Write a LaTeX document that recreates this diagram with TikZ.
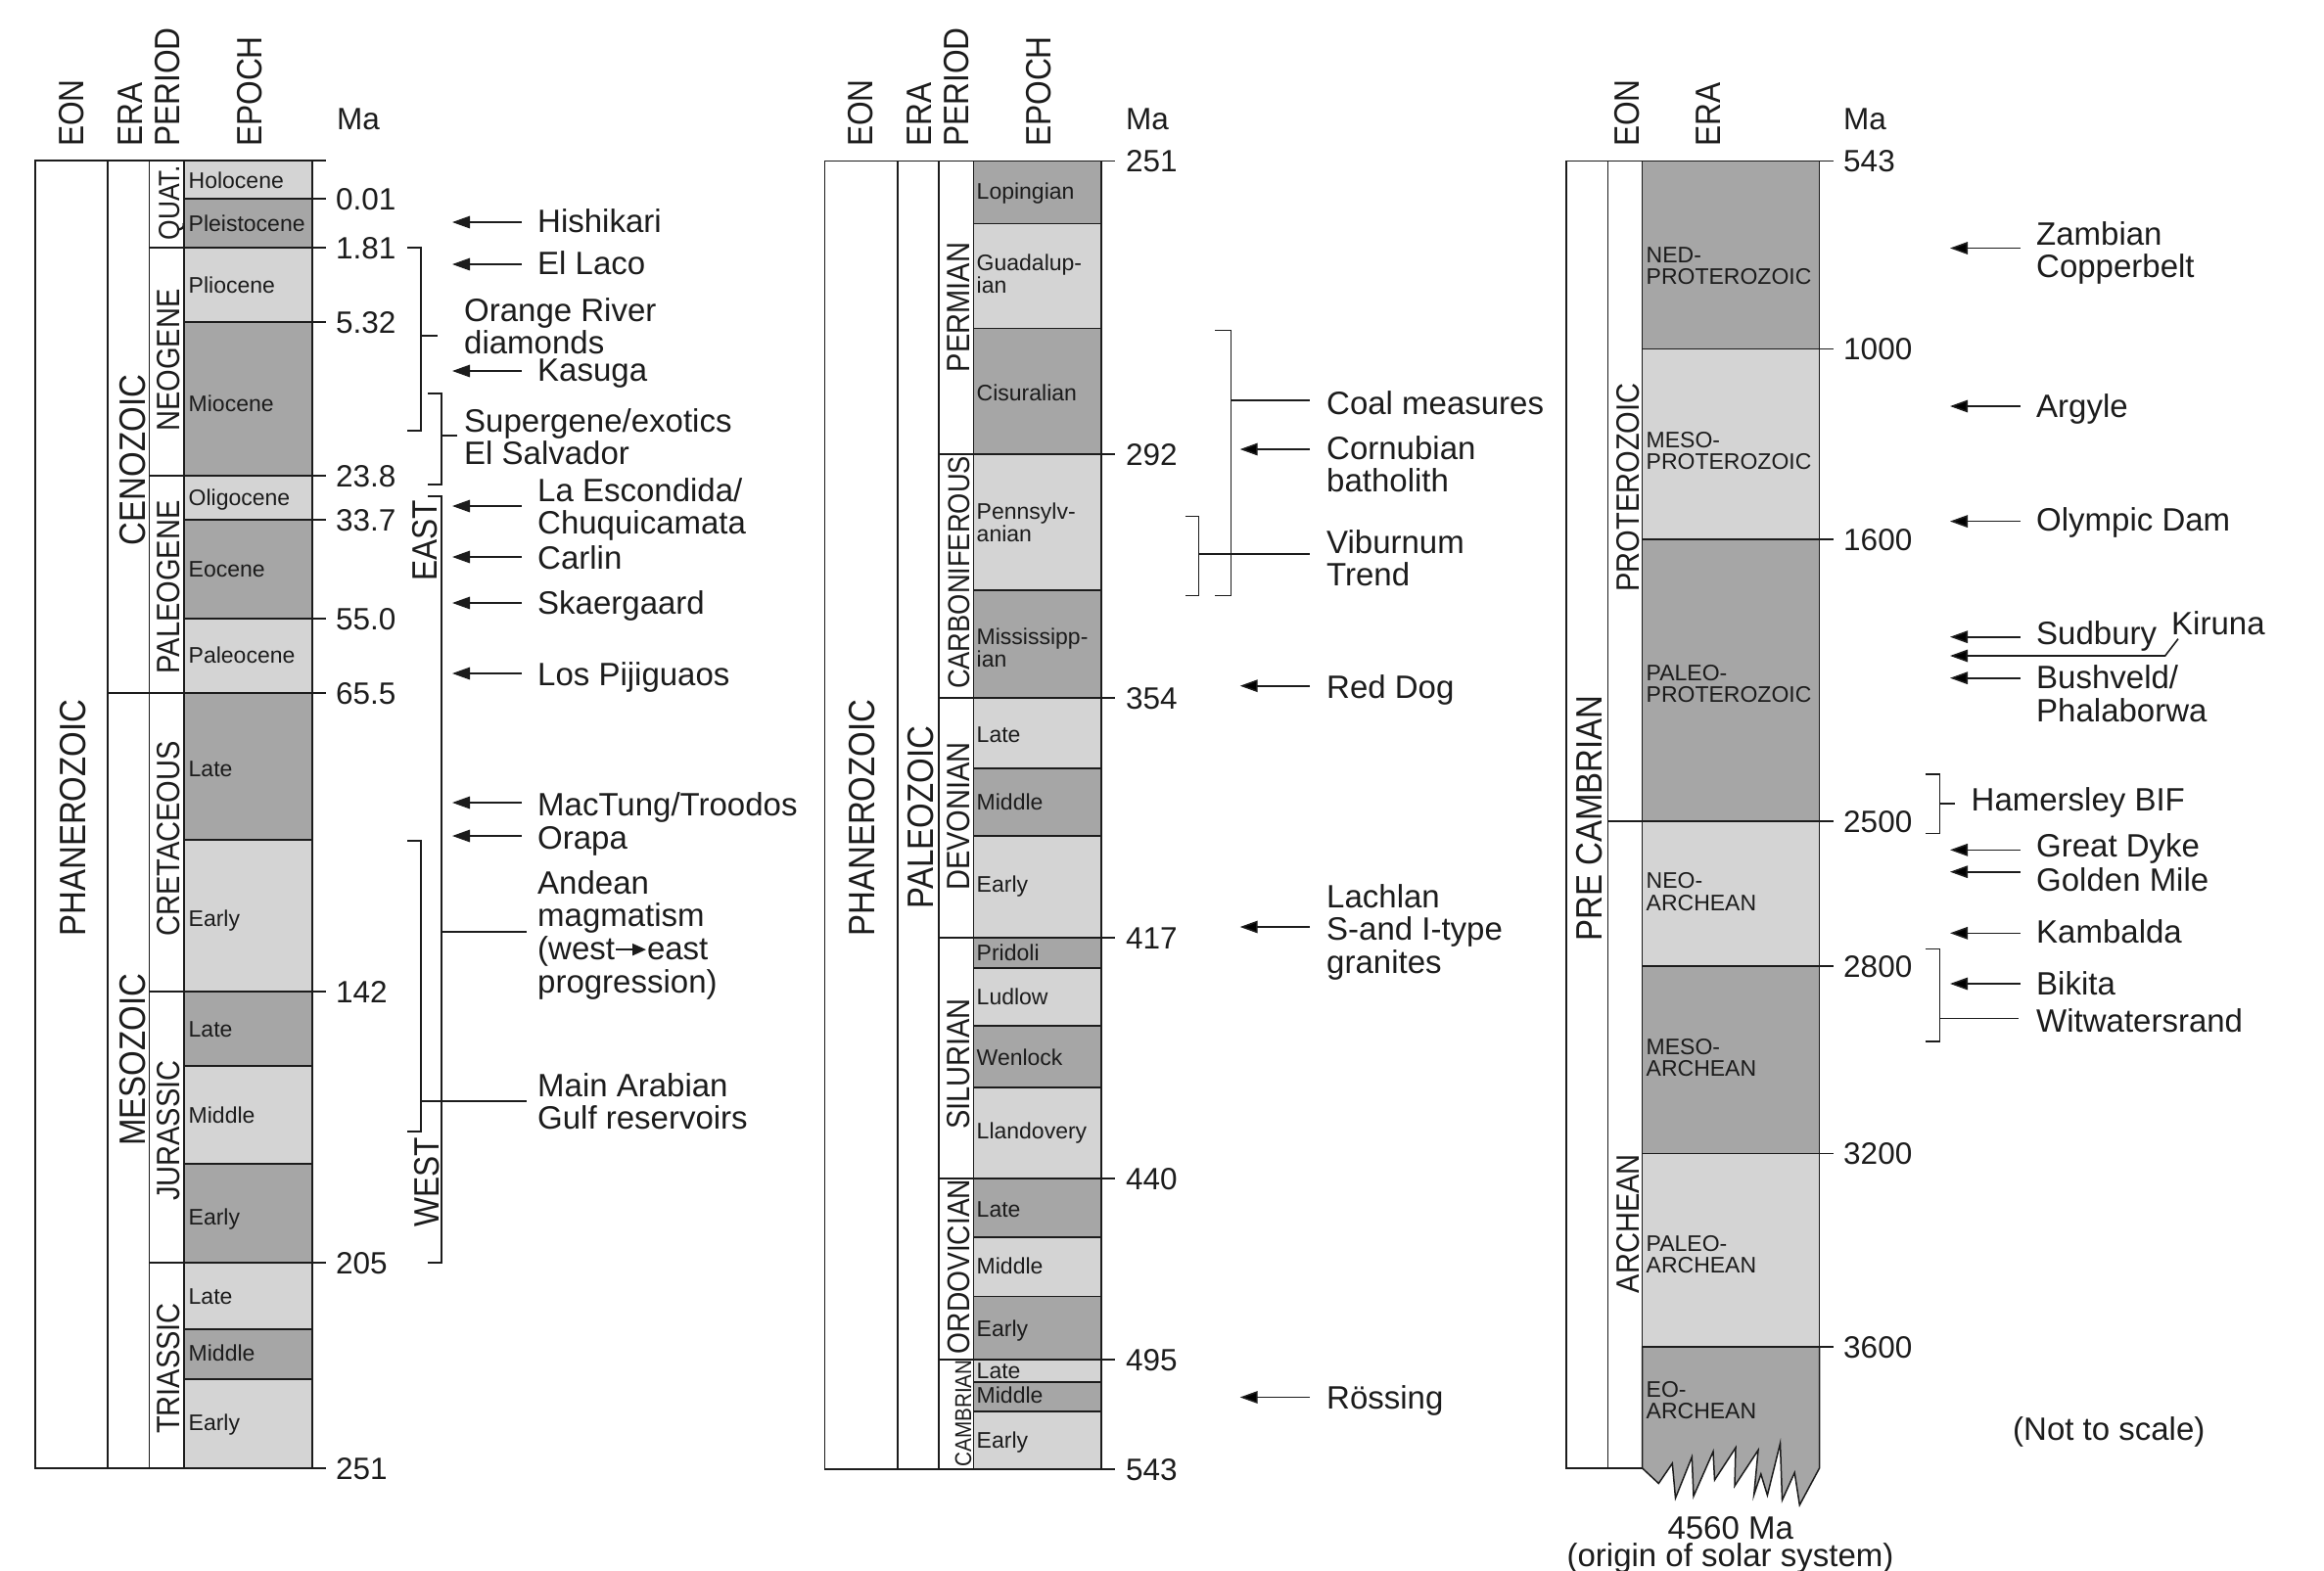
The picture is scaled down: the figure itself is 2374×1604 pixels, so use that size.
\documentclass[tikz,border=0pt]{standalone}
\usepackage{fontspec}
\setmainfont{Liberation Sans}
\newfontfamily\hdrfont{Liberation Sans}[FakeStretch=0.88]
\usetikzlibrary{arrows.meta}
\definecolor{lt}{RGB}{212,212,212}
\definecolor{dk}{RGB}{166,166,166}
\definecolor{ink}{RGB}{28,28,28}
\newcommand\mlines[1]{\begin{tabular}[t]{@{}l@{}}#1\end{tabular}}
\newcommand\wearrow{\tikz[baseline=-10.5pt]\draw[draw=ink,line width=2pt,-{Triangle[length=14pt,width=12pt]}] (0pt,0pt) -- (31pt,0pt);}
\tikzset{
  ln/.style={draw=ink, line width=1.5pt},
  lbl/.style={inner sep=0pt, anchor=base west, text=ink, font=\fontsize{33}{33}\selectfont},
  num/.style={inner sep=0pt, anchor=base west, text=ink, font=\fontsize{31.5}{33}\selectfont},
  eplbl/.style={inner sep=0pt, anchor=base west, text=ink, font=\fontsize{23}{22.5}\selectfont},
  hdr/.style={inner sep=0pt, anchor=base west, rotate=90, text=ink, font=\hdrfont\fontsize{36}{36}\selectfont},
  vlab/.style={inner sep=0pt, anchor=base, rotate=90, text=ink, font=\hdrfont\fontsize{#1}{#1}\selectfont},
  arr/.style={draw=ink, line width=1.6pt, -{Triangle[length=18pt,width=12.5pt]}},
}
\begin{document}
\begin{tikzpicture}[x=1pt,y=-1pt]
\useasboundingbox (0,0) rectangle (2374,1604);

% ================= COLUMN 1 =================
\foreach \a/\b/\c in {164/203/lt,203/253/dk,253/329/lt,329/486/dk,486/531/lt,531/632/dk,632/708/lt,708/858/dk,858/1013/lt,1013/1089/dk,1089/1189/lt,1189/1290/dk,1290/1358/lt,1358/1409/dk,1409/1500/lt}
  \filldraw[ln,fill=\c] (188,\a) rectangle (319,\b);
\foreach \a/\b in {164/253,253/486,486/708,708/1013,1013/1290,1290/1500}
  \draw[ln] (152.7,\a) rectangle (188,\b);
\foreach \a/\b in {164/708,708/1500}
  \draw[ln] (110,\a) rectangle (152.7,\b);
\draw[ln] (36,164) rectangle (110,1500);
\foreach \y in {164,203,253,329,486,531,632,708,1013,1290,1500}
  \draw[ln] (319,\y) -- (333,\y);
\foreach \lab/\y [count=\i] in {0.01/203,1.81/253,5.32/329,23.8/486,33.7/531,55.0/632,65.5/708,142/1013,205/1290,251/1500}
  \node[num] (n1-\i) at (343,\y+11) {\lab};
\node[num] (ma1) at (344,132) {Ma};

\node[hdr] (h1eon) at (85,150) {EON};
\node[hdr] (h1era) at (145,150) {ERA};
\node[hdr] (h1per) at (183,150) {PERIOD};
\node[hdr] (h1epo) at (267,150) {EPOCH};

\node[vlab=37.5] (c1phan) at (87,835.5) {PHANEROZOIC};
\node[vlab=37.5] (c1ceno) at (148,470) {CENOZOIC};
\node[vlab=37.5] (c1meso) at (148,1082.5) {MESOZOIC};
\node[vlab=30] (c1quat) at (183,207.5) {QUAT.};
\node[vlab=33] (c1neog) at (183,368) {NEOGENE};
\node[vlab=33] (c1paleog) at (183,600) {PALEOGENE};
\node[vlab=33] (c1cret) at (183,857) {CRETACEOUS};
\node[vlab=33] (c1jur) at (183,1155) {JURASSIC};
\node[vlab=33] (c1tri) at (183,1398) {TRIASSIC};

\node[eplbl] (e1-1) at (192.5,192) {Holocene};
\node[eplbl] (e1-2) at (192.5,236.5) {Pleistocene};
\node[eplbl] (e1-3) at (192.5,299.5) {Pliocene};
\node[eplbl] (e1-4) at (192.5,420) {Miocene};
\node[eplbl] (e1-5) at (192.5,516) {Oligocene};
\node[eplbl] (e1-6) at (192.5,589) {Eocene};
\node[eplbl] (e1-7) at (192.5,677) {Paleocene};
\node[eplbl] (e1-8) at (192.5,793) {Late};
\node[eplbl] (e1-9) at (192.5,946) {Early};
\node[eplbl] (e1-10) at (192.5,1059.5) {Late};
\node[eplbl] (e1-11) at (192.5,1147) {Middle};
\node[eplbl] (e1-12) at (192.5,1251) {Early};
\node[eplbl] (e1-13) at (192.5,1332) {Late};
\node[eplbl] (e1-14) at (192.5,1390) {Middle};
\node[eplbl] (e1-15) at (192.5,1461) {Early};

% brackets column 1
\draw[ln] (416,253) -- (430,253) -- (430,440) -- (416,440);
\coordinate (orA) at (430,343); \coordinate (orB) at (447,343);
\draw[ln] (orA) -- (orB);
\draw[ln] (437,402) -- (451,402) -- (451,495) -- (437,495);
\coordinate (spA) at (451,445); \coordinate (spB) at (467,445);
\draw[ln] (spA) -- (spB);
\draw[ln] (437,507) -- (451,507) -- (451,1290) -- (437,1290);
\coordinate (anA) at (451,952); \coordinate (anB) at (538,952);
\draw[ln] (anA) -- (anB);
\draw[ln] (416,859) -- (430,859) -- (430,1156) -- (416,1156);
\coordinate (maA) at (430,1125); \coordinate (maB) at (538,1125);
\draw[ln] (maA) -- (maB);
\node[vlab=36] (east) at (446,552.5) {EAST};
\node[vlab=36] (west) at (448,1208) {WEST};

\foreach \y [count=\i] in {227,270,379,517,569,616,688,820,854} {
  \coordinate (a1s\i) at (533,\y); \coordinate (a1t\i) at (462,\y);
  \draw[arr] (a1s\i) -- (a1t\i);
}
\node[lbl] (hishikari) at (549,237) {Hishikari};
\node[lbl] (ellaco) at (549,280) {El Laco};
\node[lbl] (orange) at (474,328) {\mlines{Orange River\\diamonds}};
\node[lbl] (kasuga) at (549,389) {Kasuga};
\node[lbl] (superg) at (474,441) {\mlines{Supergene/exotics\\El Salvador}};
\node[lbl] (escond) at (549,512) {\mlines{La Escondida/\\Chuquicamata}};
\node[lbl] (carlin) at (549,581) {Carlin};
\node[lbl] (skaer) at (549,627) {Skaergaard};
\node[lbl] (pijig) at (549,700) {Los Pijiguaos};
\node[lbl] (mactung) at (549,833) {MacTung/Troodos};
\node[lbl] (orapa) at (549,867) {Orapa};
\node[lbl] (andean) at (549,913) {\mlines{Andean\\magmatism\\(west\wearrow{}east\\progression)}};
\node[lbl] (arabian) at (549,1120) {\mlines{Main Arabian\\Gulf reservoirs}};

% ================= COLUMN 2 =================
\foreach \a/\b/\c in {164.6/228.5/dk,228.5/335.6/lt,335.6/464/dk,464/603/lt,603/713/dk,713/785/lt,785/854/dk,854/958/lt,958/989/dk,989/1048/lt,1048/1111/dk,1111/1204/lt,1204/1264/dk,1264/1324.5/lt,1324.5/1389/dk,1389/1412/lt,1412/1442/dk,1442/1501/lt}
  \filldraw[ln,fill=\c] (994.3,\a) rectangle (1125,\b);
\foreach \a/\b in {164.6/464,464/713,713/958,958/1204,1204/1389,1389/1501}
  \draw[ln] (959,\a) rectangle (994.3,\b);
\draw[ln] (916.8,164.6) rectangle (959,1501);
\draw[ln] (842.3,164.6) rectangle (916.8,1501);
\foreach \y in {164.6,464,713,958,1204,1389,1501}
  \draw[ln] (1125,\y) -- (1139,\y);
\foreach \lab/\y [count=\i] in {251/164.6,292/464,354/713,417/958,440/1204,495/1389,543/1501}
  \node[num] (n2-\i) at (1150,\y+11) {\lab};
\node[num] (ma2) at (1150,132) {Ma};

\node[hdr] (h2eon) at (891,150) {EON};
\node[hdr] (h2era) at (951,150) {ERA};
\node[hdr] (h2per) at (989,150) {PERIOD};
\node[hdr] (h2epo) at (1073,150) {EPOCH};

\node[vlab=37.5] (c2phan) at (893,835.5) {PHANEROZOIC};
\node[vlab=37.5] (c2paleoz) at (953,835) {PALEOZOIC};
\node[vlab=33] (c2perm) at (990,314) {PERMIAN};
\node[vlab=31] (c2carb) at (990,585) {CARBONIFEROUS};
\node[vlab=33] (c2dev) at (990,834) {DEVONIAN};
\node[vlab=33] (c2sil) at (990,1087) {SILURIAN};
\node[vlab=32] (c2ord) at (990,1294) {ORDOVICIAN};
\node[vlab=23.5] (c2camb) at (992,1444) {CAMBRIAN};

\node[eplbl] (e2-1) at (997.5,203.5) {Lopingian};
\node[eplbl] (e2-2) at (997.5,276) {\mlines{Guadalup-\\ian}};
\node[eplbl] (e2-3) at (997.5,409) {Cisuralian};
\node[eplbl] (e2-4) at (997.5,530) {\mlines{Pennsylv-\\anian}};
\node[eplbl] (e2-5) at (997.5,658) {\mlines{Mississipp-\\ian}};
\node[eplbl] (e2-6) at (997.5,758.5) {Late};
\node[eplbl] (e2-7) at (997.5,827) {Middle};
\node[eplbl] (e2-8) at (997.5,911) {Early};
\node[eplbl] (e2-9) at (997.5,981) {Pridoli};
\node[eplbl] (e2-10) at (997.5,1026) {Ludlow};
\node[eplbl] (e2-11) at (997.5,1088) {Wenlock};
\node[eplbl] (e2-12) at (997.5,1163) {Llandovery};
\node[eplbl] (e2-13) at (997.5,1243) {Late};
\node[eplbl] (e2-14) at (997.5,1301) {Middle};
\node[eplbl] (e2-15) at (997.5,1365) {Early};
\node[eplbl] (e2-16) at (997.5,1408) {Late};
\node[eplbl] (e2-17) at (997.5,1433) {Middle};
\node[eplbl] (e2-18) at (997.5,1479) {Early};

% brackets column 2
\draw[ln] (1241,337.5) -- (1257.5,337.5) -- (1257.5,608.6) -- (1241,608.6);
\coordinate (coA) at (1257.5,409); \coordinate (coB) at (1338,409);
\draw[ln] (coA) -- (coB);
\draw[ln] (1210.7,527.6) -- (1224.5,527.6) -- (1224.5,608.6) -- (1210.7,608.6);
\coordinate (viA) at (1224.5,566); \coordinate (viB) at (1338,566);
\draw[ln] (viA) -- (viB);

\foreach \y [count=\i] in {459,700.7,947,1427.5} {
  \coordinate (a2s\i) at (1338,\y); \coordinate (a2t\i) at (1266.7,\y);
  \draw[arr] (a2s\i) -- (a2t\i);
}
\node[lbl] (coal) at (1355,423) {Coal measures};
\node[lbl] (cornub) at (1355,469) {\mlines{Cornubian\\batholith}};
\node[lbl] (vibur) at (1355,565) {\mlines{Viburnum\\Trend}};
\node[lbl] (reddog) at (1355,713) {Red Dog};
\node[lbl] (lachlan) at (1355,927) {\mlines{Lachlan\\S-and I-type\\granites}};
\node[lbl] (rossing) at (1355,1439) {Rössing};

% ================= COLUMN 3 =================
\foreach \a/\b/\c in {164.6/356.3/dk,356.3/551/lt,551/839/dk,839/987/lt,987/1178.6/dk,1178.6/1376/lt}
  \filldraw[ln,fill=\c] (1677.7,\a) rectangle (1858.5,\b);
\filldraw[ln,fill=dk] (1677.7,1376) -- (1677.7,1500) -- (1694.3,1515.5) -- (1708.3,1495) -- (1711.5,1530.5) -- (1728.3,1488.5) -- (1730,1528.5) -- (1750,1483) -- (1751.5,1512) -- (1773,1479) -- (1772,1518) -- (1796,1481.5) -- (1791.7,1527) -- (1798.8,1506) -- (1805.4,1527.6) -- (1818.5,1474.5) -- (1820.5,1532.6) -- (1833.2,1504.5) -- (1838.3,1537.6) -- (1858.5,1500) -- (1858.5,1376) -- cycle;
\foreach \a/\b in {164.6/839,839/1500}
  \draw[ln] (1642.3,\a) rectangle (1677.7,\b);
\draw[ln] (1600,164.6) rectangle (1642.3,1500);
\foreach \y in {164.6,356.3,551,839,987,1178.6,1376}
  \draw[ln] (1858.5,\y) -- (1873,\y);
\foreach \lab/\y [count=\i] in {543/164.6,1000/356.3,1600/551,2500/839,2800/987,3200/1178.6,3600/1376}
  \node[num] (n3-\i) at (1883,\y+11) {\lab};
\node[num] (ma3) at (1883,132) {Ma};

\node[hdr] (h3eon) at (1674,150) {EON};
\node[hdr] (h3era) at (1757,150) {ERA};

\node[vlab=37.5] (c3pre) at (1636,836) {PRE CAMBRIAN};
\node[vlab=33] (c3prot) at (1674,498) {PROTEROZOIC};
\node[vlab=33] (c3arch) at (1674,1250) {ARCHEAN};

\node[eplbl] (e3-1) at (1681.5,268) {\mlines{NED-\\PROTEROZOIC}};
\node[eplbl] (e3-2) at (1681.5,457) {\mlines{MESO-\\PROTEROZOIC}};
\node[eplbl] (e3-3) at (1681.5,695) {\mlines{PALEO-\\PROTEROZOIC}};
\node[eplbl] (e3-4) at (1681.5,907.7) {\mlines{NEO-\\ARCHEAN}};
\node[eplbl] (e3-5) at (1681.5,1077) {\mlines{MESO-\\ARCHEAN}};
\node[eplbl] (e3-6) at (1681.5,1278) {\mlines{PALEO-\\ARCHEAN}};
\node[eplbl] (e3-7) at (1681.5,1427) {\mlines{EO-\\ARCHEAN}};

% brackets column 3
\draw[ln] (1967,791) -- (1981.7,791) -- (1981.7,851.7) -- (1967,851.7);
\coordinate (haA) at (1981.7,821); \coordinate (haB) at (1997,821);
\draw[ln] (haA) -- (haB);
\draw[ln] (1967,969.6) -- (1981.7,969.6) -- (1981.7,1064) -- (1967,1064);
\coordinate (wiA) at (1981.7,1040.6); \coordinate (wiB) at (2062,1040.6);
\draw[ln] (wiA) -- (wiB);

\foreach \y [count=\i] in {253.5,415,532.6,650.7,692.7,868.3,890.7,953.3,1005} {
  \coordinate (a3s\i) at (2063.5,\y); \coordinate (a3t\i) at (1992,\y);
  \draw[arr] (a3s\i) -- (a3t\i);
}
\coordinate (kirK) at (2225,652.7);
\coordinate (kirB) at (2211.7,670);
\coordinate (kirT) at (1992,670);
\draw[arr] (kirK) -- (kirB) -- (kirT);

\node[lbl] (zambian) at (2080,250) {\mlines{Zambian\\Copperbelt}};
\node[lbl] (argyle) at (2080,426.5) {Argyle};
\node[lbl] (olympic) at (2080,542.6) {Olympic Dam};
\node[lbl] (sudbury) at (2080,658) {Sudbury};
\node[lbl] (kiruna) at (2218,648.3) {Kiruna};
\node[lbl] (bushveld) at (2080,703.3) {\mlines{Bushveld/\\Phalaborwa}};
\node[lbl] (hamersley) at (2013.5,828.3) {Hamersley BIF};
\node[lbl] (greatdyke) at (2080,875) {Great Dyke};
\node[lbl] (golden) at (2080,910) {Golden Mile};
\node[lbl] (kambalda) at (2080,963.3) {Kambalda};
\node[lbl] (bikita) at (2080,1016) {Bikita};
\node[lbl] (witw) at (2080,1054) {Witwatersrand};
\node[lbl] (notscale) at (2056,1471) {(Not to scale)};
\node[lbl,anchor=base] (ma4560) at (1767.7,1572) {4560 Ma};
\node[lbl,anchor=base] (origin) at (1767.5,1600.3) {(origin of solar system)};
\end{tikzpicture}
\end{document}
